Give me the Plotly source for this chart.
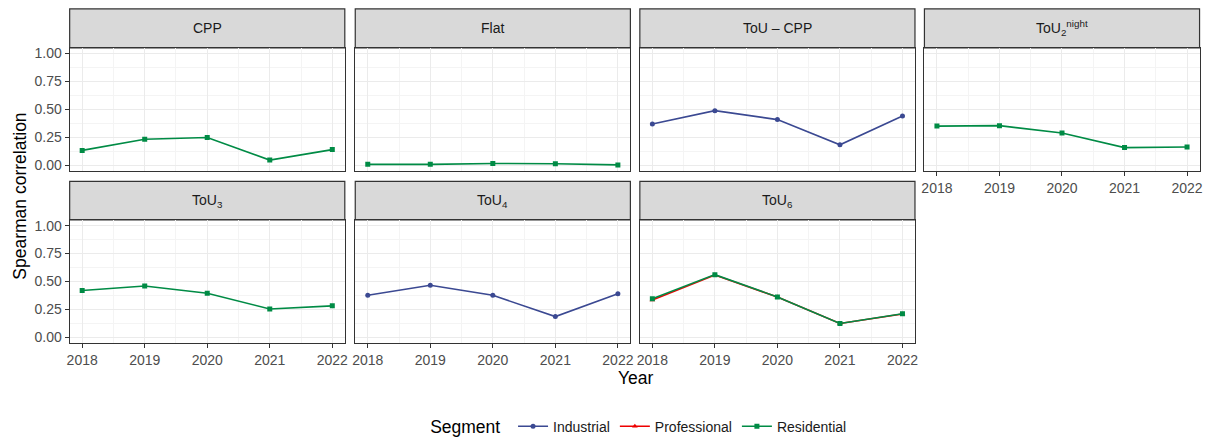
import plotly.graph_objects as go

# ---- data ----
years = [2018, 2019, 2020, 2021, 2022]

cpp_residential = [0.135, 0.235, 0.250, 0.048, 0.142]
flat_residential = [0.010, 0.010, 0.018, 0.015, 0.005]
toucpp_industrial = [0.370, 0.490, 0.410, 0.185, 0.442]
tou2night_residential = [0.352, 0.356, 0.290, 0.160, 0.165]
tou3_residential = [0.420, 0.460, 0.395, 0.255, 0.283]
tou4_industrial = [0.377, 0.467, 0.377, 0.187, 0.392]
tou6_professional = [0.335, 0.558, 0.362, 0.125, 0.210]
tou6_residential = [0.347, 0.562, 0.362, 0.125, 0.212]

segments = ["Industrial", "Professional", "Residential"]
seg_colors = {"Industrial": "#3B4992", "Professional": "#EE0000", "Residential": "#008B45"}
seg_symbols = {"Industrial": "circle", "Professional": "triangle-up", "Residential": "square"}

# (strip label, row, col, {segment: values})
panels = [
    ("CPP", 0, 0, {"Residential": cpp_residential}),
    ("Flat", 0, 1, {"Residential": flat_residential}),
    ("ToU – CPP", 0, 2, {"Industrial": toucpp_industrial}),
    ("ToU<sub>2</sub><sup>night</sup>", 0, 3, {"Residential": tou2night_residential}),
    ("ToU<sub>3</sub>", 1, 0, {"Residential": tou3_residential}),
    ("ToU<sub>4</sub>", 1, 1, {"Industrial": tou4_industrial}),
    ("ToU<sub>6</sub>", 1, 2, {"Professional": tou6_professional, "Residential": tou6_residential}),
]

W, H = 1215, 444
col_px = [(67, 343.5), (354, 630.5), (640, 916.5), (926, 1202.5)]
row_px = [(7, 46.5, 171), (181.5, 220.5, 345)]  # strip top, panel top, panel bottom

FONT = "Liberation Sans, Arial, sans-serif"
fig = go.Figure()
shapes, annotations = [], []
shown = set()

for i, (label, r, c, series) in enumerate(panels):
    n = "" if i == 0 else str(i + 1)
    x0, x1 = col_px[c]
    st, pt, pb = row_px[r]
    show_x = (r == 1) or (c == 3)
    show_y = (c == 0)
    for seg in segments:
        if seg not in series:
            continue
        fig.add_trace(go.Scatter(
            x=years, y=series[seg], mode="lines+markers", name=seg,
            line=dict(color=seg_colors[seg], width=1.6),
            marker=dict(color=seg_colors[seg], symbol=seg_symbols[seg], size=5),
            xaxis="x" + n, yaxis="y" + n, legendgroup=seg,
            legendrank=segments.index(seg) + 1,
            showlegend=seg not in shown,
        ))
        shown.add(seg)
    common = dict(showline=True, mirror=True, linecolor="#333333", linewidth=1.2,
                  gridcolor="#EBEBEB", gridwidth=1, zeroline=False,
                  tickfont=dict(family=FONT, size=14, color="#4D4D4D"),
                  tickcolor="#333333", ticklen=4)
    fig.layout["xaxis" + n] = dict(
        common, domain=[x0 / W, x1 / W], anchor="y" + n, range=[2017.8, 2022.2],
        tickvals=years, showticklabels=show_x, ticks="outside" if show_x else "",
        minor=dict(dtick=0.5, tick0=2017.5, showgrid=True, gridcolor="#F4F4F4", gridwidth=0.6),
    )
    fig.layout["yaxis" + n] = dict(
        common, domain=[1 - pb / H, 1 - pt / H], anchor="x" + n, range=[-0.05, 1.05],
        tickvals=[0, 0.25, 0.5, 0.75, 1.0], ticktext=["0.00", "0.25", "0.50", "0.75", "1.00"],
        showticklabels=show_y, ticks="outside" if show_y else "",
        minor=dict(dtick=0.125, tick0=0.125, showgrid=True, gridcolor="#F4F4F4", gridwidth=0.6),
    )
    # facet strip
    shapes.append(dict(type="rect", xref="paper", yref="paper",
                       x0=x0 / W, x1=x1 / W, y0=1 - pt / H, y1=1 - st / H,
                       fillcolor="#D9D9D9", line=dict(color="#333333", width=1.2), layer="below"))
    annotations.append(dict(text=label, xref="paper", yref="paper",
                            x=(x0 + x1) / 2 / W, y=1 - (st + pt) / 2 / H,
                            showarrow=False, xanchor="center", yanchor="middle",
                            font=dict(family=FONT, size=14, color="#1A1A1A")))

annotations.append(dict(text="Spearman correlation", xref="paper", yref="paper",
                        x=17 / W, y=1 - 196 / H, textangle=-90, showarrow=False,
                        xanchor="center", yanchor="middle",
                        font=dict(family=FONT, size=17.5, color="#000000")))
annotations.append(dict(text="Year", xref="paper", yref="paper",
                        x=636 / W, y=1 - 380 / H, showarrow=False,
                        xanchor="center", yanchor="middle",
                        font=dict(family=FONT, size=17.5, color="#000000")))

fig.update_layout(
    width=W, height=H, margin=dict(l=0, r=0, t=0, b=0),
    paper_bgcolor="white", plot_bgcolor="white",
    shapes=shapes, annotations=annotations,
    legend=dict(orientation="h", x=0.527, xanchor="center", y=1 - 430 / H, yanchor="middle",
                title=dict(text="Segment ", font=dict(family=FONT, size=17.5, color="#000000")),
                font=dict(family=FONT, size=14, color="#1A1A1A"), itemwidth=30,
                bgcolor="rgba(0,0,0,0)"),
)

fig.write_html("out.html", config={"displayModeBar": False},
               post_script="document.body.style.margin='0';document.body.style.overflow='hidden';")
